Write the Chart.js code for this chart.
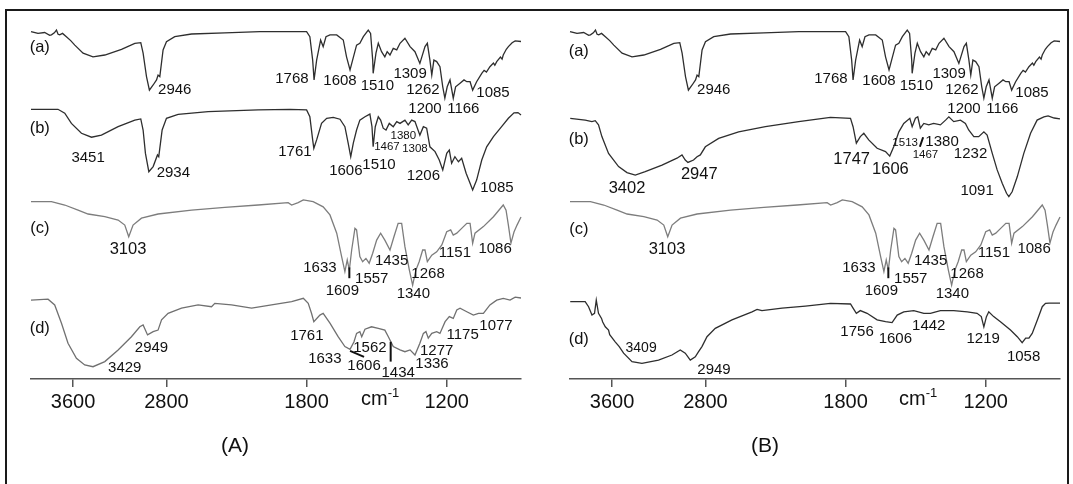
<!DOCTYPE html>
<html><head><meta charset="utf-8">
<script src="https://cdn.jsdelivr.net/npm/chart.js@4.4.1/dist/chart.umd.min.js"></script>
<style>
html,body{margin:0;padding:0;background:#fff;}
body{width:1073px;height:484px;position:relative;overflow:hidden;font-family:"Liberation Sans",Arial,sans-serif;}
#frame{position:absolute;left:5px;top:9px;width:1064px;height:485px;border:2px solid #1a1a1a;box-sizing:border-box;}
.cv{position:absolute;top:0;}
#wa{left:0;width:538px;height:484px;}
#wb{left:538px;width:535px;height:484px;}
.t{position:absolute;color:#111;white-space:nowrap;}
.cm{font-size:20px;line-height:20px;top:388px;}
.cm span{font-size:13px;position:relative;top:-8px;}
.pt{font-size:21px;line-height:21px;top:434px;width:60px;text-align:center;}
</style></head>
<body>
<div id="frame"></div>
<div class="cv" id="wa"><canvas id="ca" width="538" height="484"></canvas></div>
<div class="cv" id="wb"><canvas id="cb" width="535" height="484"></canvas></div>
<div class="t cm" style="left:361px">cm<span>-1</span></div>
<div class="t cm" style="left:899px">cm<span>-1</span></div>
<div class="t pt" style="left:205px">(A)</div>
<div class="t pt" style="left:735px">(B)</div>
<script>
// ---- axis ----
const X_TICKS = [3600, 2800, 1800, 1200];
const X_MAX = 3960, X_MIN = 882;

// ---- spectra: [wavenumber (cm-1), offset transmittance] ----
const SPEC_a = [[3960,115.8],[3900,115.2],[3843,115.5],[3800,114.6],[3785,114.7],[3760,115.4],[3742,116.3],[3728,114.9],[3714,114.7],[3690,115.2],[3657,114.1],[3620,112.8],[3585,111.3],[3514,108.6],[3429,107.4],[3328,108],[3185,109.9],[3071,111.9],[3020,112.1],[3000,108.6],[2971,100.8],[2946,96.3],[2914,98],[2885,99.7],[2872,101.3],[2857,100.8],[2829,109.7],[2800,112.4],[2729,114.1],[2585,115],[2300,115.4],[2000,115.8],[1800,115.8],[1786,114.1],[1774,106.3],[1768,99.7],[1757,106.3],[1740,113],[1729,110.8],[1717,114.1],[1700,114.7],[1671,114.7],[1643,113],[1629,107.4],[1614,103],[1603,106.3],[1586,111.3],[1572,111.9],[1557,114.1],[1536,116.3],[1526,115.2],[1517,106.3],[1515,101.9],[1503,108.6],[1493,111.9],[1479,109.1],[1465,107.4],[1455,109.1],[1443,108],[1429,110.2],[1414,109.7],[1400,111.9],[1379,113.6],[1357,110.8],[1336,109.1],[1315,105.2],[1293,110.8],[1283,111.9],[1272,106.3],[1264,101.3],[1255,106.3],[1243,105.8],[1229,104.1],[1217,97.4],[1208,93.6],[1198,97.4],[1186,99.7],[1172,93.6],[1162,97.4],[1143,98.6],[1126,99.7],[1114,99.1],[1100,99.1],[1089,96.3],[1072,99.1],[1050,101.9],[1040,102.9],[1030,102.3],[1015,104.1],[1000,105.3],[994,104.6],[986,105.8],[970,107.3],[963,106.6],[958,108],[945,109.9],[936,110.8],[920,112.1],[907,112.7],[882,112.5]];

const SPEC_Ab = [[3960,89.9],[3729,89.9],[3671,88.6],[3614,85.2],[3528,81.9],[3442,80.6],[3357,81.3],[3214,84.1],[3071,86.3],[3020,86.7],[3000,83],[2980,75.2],[2951,69.1],[2914,70.8],[2877,74.7],[2866,74.1],[2837,83],[2800,86.9],[2700,88.2],[2443,89.1],[2015,89.7],[1871,89.9],[1800,89.7],[1786,87.4],[1774,79.7],[1769,76.9],[1757,79.7],[1736,85.2],[1714,86.9],[1686,87.2],[1657,86.6],[1636,84.1],[1622,78.6],[1611,74.1],[1600,78.6],[1586,83],[1572,86.3],[1550,87.4],[1529,88.3],[1520,84.1],[1515,77.4],[1506,84.1],[1493,87.4],[1483,86.3],[1472,83.6],[1460,83],[1446,85.2],[1429,84.1],[1414,85.8],[1400,85.2],[1379,86.3],[1365,84.7],[1350,86.3],[1336,85.8],[1315,81.3],[1300,84.1],[1286,83.6],[1272,77.4],[1250,75.8],[1232,73],[1217,69.7],[1200,75.2],[1189,76.3],[1179,71.9],[1165,74.1],[1150,72.4],[1136,73.6],[1117,68.6],[1103,65.8],[1089,63],[1072,66.3],[1050,73],[1029,77.4],[1000,80.8],[965,84.1],[936,86.9],[912,88.7],[895,88.8],[882,88]];

const SPEC_c = [[3960,59.1],[3785,59.1],[3671,58],[3557,56.3],[3471,55],[3328,54.1],[3214,53],[3157,51.3],[3123,47.4],[3086,51.3],[3014,53.6],[2872,55],[2585,56.3],[2300,57.2],[2015,58],[1879,58.8],[1864,58],[1836,58.8],[1814,59.7],[1772,59.1],[1729,57.4],[1700,54.7],[1671,48.6],[1650,40.8],[1636,35.8],[1626,39.7],[1617,36.3],[1607,43],[1593,50.2],[1586,49.7],[1572,40.8],[1560,39.1],[1546,40.2],[1532,38.6],[1517,41.9],[1500,46.3],[1483,48.6],[1465,46.3],[1443,43],[1426,47.4],[1408,51.9],[1393,51.9],[1379,44.1],[1360,36.3],[1346,31.3],[1332,36.3],[1318,39.1],[1303,43],[1293,43],[1283,39.1],[1264,41.3],[1243,42.4],[1221,44.7],[1200,49.1],[1183,49.7],[1172,48],[1157,48.6],[1136,50.2],[1114,51.9],[1100,51.9],[1089,45.2],[1079,48.6],[1043,50.8],[1000,54.1],[958,58],[946,56.3],[936,51.3],[925,45.3],[912,49],[899,51.3],[882,54]];

const SPEC_Ad = [[3960,26.3],[3814,26.6],[3757,24.7],[3699,18.6],[3643,11.9],[3571,6.9],[3500,4.7],[3429,4.1],[3328,5.8],[3214,9.7],[3100,14.1],[3028,17.4],[3000,18],[2962,14.7],[2914,15.8],[2872,16.3],[2842,19.7],[2786,21.9],[2671,23.6],[2529,24.7],[2414,24.1],[2386,25.2],[2243,24.7],[2071,23.6],[1950,24.7],[1864,25.8],[1814,26.9],[1793,25.2],[1779,21.9],[1769,19.1],[1743,21.3],[1729,21.9],[1700,18.6],[1665,14.1],[1636,10.8],[1614,9.9],[1597,12.4],[1586,15.2],[1572,15.8],[1564,14.1],[1550,16.6],[1522,17.4],[1493,16.9],[1465,16.3],[1450,14.1],[1429,10.8],[1400,9.7],[1379,9.1],[1357,9.7],[1336,8],[1315,11.9],[1300,15.2],[1289,15.8],[1279,13.6],[1264,15.2],[1243,15.8],[1229,15.2],[1207,19.1],[1189,20.8],[1172,20.2],[1157,23],[1143,23.6],[1114,22.4],[1086,21.3],[1064,21.9],[1043,21.9],[1015,24.7],[986,26.3],[958,26.9],[929,26.3],[907,27.3],[882,27]];

const SPEC_Bb = [[3958,86.9],[3830,86.3],[3772,85.8],[3744,86.1],[3716,84.7],[3687,80.8],[3630,75.2],[3544,70.8],[3472,68.8],[3401,68],[3316,69.1],[3172,71.3],[3044,73.6],[3001,74.7],[2973,73],[2950,72.2],[2902,73],[2872,74.1],[2844,74.7],[2801,77.4],[2687,80.2],[2516,82.4],[2287,84.1],[2002,85.8],[1865,87.2],[1779,86.9],[1768,84.1],[1754,78.6],[1737,80.8],[1722,81.9],[1701,79.7],[1665,76.9],[1629,75.8],[1611,74.3],[1594,77.4],[1572,82.4],[1551,85.2],[1525,86.9],[1515,84.1],[1501,86.9],[1491,87.4],[1480,83.6],[1465,85.2],[1444,84.7],[1423,85.2],[1394,84.7],[1372,86.3],[1358,87.4],[1337,85.8],[1308,86.3],[1287,85.2],[1273,83],[1251,80.8],[1230,80.8],[1208,82.4],[1194,81.3],[1172,75.2],[1151,69.7],[1129,65.2],[1111,61.9],[1101,60.8],[1087,62.4],[1065,67.4],[1037,75.2],[1008,81.9],[980,86.3],[951,87.4],[933,87.7],[907,87],[882,86.7]];

const SPEC_Bd = [[3958,25.8],[3830,25.8],[3801,24.1],[3772,21.3],[3750,21.9],[3735,26.3],[3716,21.9],[3690,20.2],[3680,19.0],[3658,17.4],[3630,16.3],[3620,14.8],[3573,12.4],[3540,10.9],[3501,8.6],[3429,5.8],[3344,5.2],[3202,6.3],[3087,8],[3016,9.7],[2973,8.6],[2930,6.3],[2887,7.4],[2859,9.1],[2830,10.8],[2787,14.1],[2716,16.9],[2573,19.7],[2401,22.4],[2358,23.2],[2316,22.8],[2144,23.6],[1972,24.3],[1865,25.2],[1779,25],[1768,23.6],[1754,21.9],[1737,22.8],[1708,21.9],[1665,19.7],[1629,19.1],[1601,18.8],[1579,21.3],[1551,22.4],[1508,22.8],[1465,21.9],[1437,21.9],[1394,22.8],[1337,22.8],[1279,22.4],[1237,21.9],[1219,20.8],[1208,17.4],[1197,20.8],[1187,22.4],[1166,20.8],[1137,19.1],[1094,16.3],[1065,14.1],[1044,12.1],[1029,13.6],[1015,13.6],[1001,15.2],[979,19.7],[958,24.1],[944,25.2],[929,25.3],[882,25.3]];

// ---- peak labels: [text, wavenumber, level, kind] ----
const LABELS_a = [['2946',2729,96.9],['1768',1863,100.5],['1608',1657,99.7],['1510',1497,98.2],['1309',1357,102.1],['1262',1302,96.9],['1200',1293,90.6],['1166',1129,90.6],['1085',1002,95.7]];
const LABELS_Ab = [['3451',3471,74.1],['2934',2741,69.1],['1761',1850,76.3],['1606',1632,69.7],['1510',1490,71.9],['1467',1456,77.7,'s'],['1380',1386,81.3,'s'],['1308',1336,76.9,'s'],['1206',1300,68.3],['1085',985,64]];
const LABELS_c = [['3103',3129,43.6,'b'],['1633',1743,37.4],['1609',1647,29.9],['1557',1521,33.9],['1435',1436,39.9],['1268',1280,35.4],['1340',1343,28.8],['1151',1165,42.4],['1086',993,43.7]];
const LABELS_Ad = [['3429',3157,4.1],['2949',2928,10.8],['1761',1799,14.8],['1633',1722,7.1],['1606',1554,4.7],['1562',1529,10.8],['1434',1408,2.4],['1336',1263,5.4],['1277',1243,9.7],['1175',1132,15.2],['1077',989,18.3]];
const LABELS_Bb = [['3402',3472,63.9,'b'],['2947',2853,68.8,'b'],['1747',1774,73.6,'b'],['1606',1608,70.2,'b'],['1513',1545,79.1,'s'],['1467',1458,75,'s'],['1380',1387,79.4],['1232',1265,75.4],['1091',1237,63.2]];
const LABELS_Bd = [['3409',3351,10.8,'m'],['2949',2727,3.6],['1756',1751,16.3],['1606',1587,13.9],['1442',1444,18],['1219',1211,13.9],['1058',1038,7.7]];
// leader marks: [w1, v1, w2, v2]
const MARKS_c = [[1617,37.2,1617,33.6]];
const MARKS_Ad = [[1614,9.4,1554,7.4],[1440,12.4,1440,5.8]];
const MARKS_Bb = [[1482,77.4,1468,80.6]];
const TAGS_A = [['(a)',111],['(b)',84.1],['(c)',50.8],['(d)',17.4]];
const TAGS_B = [['(a)',109.7],['(b)',80.2],['(c)',50.2],['(d)',13.6]];
const TAG_W = 3885;

// ---- scale with 2x expansion below 2000 cm-1 ----
const BREAK = 2000;
class WaveScale extends Chart.LinearScale {
  static id = 'wave';
  static defaults = {};
  buildTicks() { return X_TICKS.map(v => ({ value: v })); }
  _t(w) { return w >= BREAK ? w : BREAK - 2 * (BREAK - w); }
  getPixelForValue(v) {
    const a = this._t(this.max), b = this._t(this.min);
    return this.getPixelForDecimal((a - this._t(v)) / (a - b));
  }
  getValueForPixel(p) {
    const a = this._t(this.max), b = this._t(this.min);
    const t = a - this.getDecimalForPixel(p) * (a - b);
    return t >= BREAK ? t : BREAK - (BREAK - t) / 2;
  }
}
Chart.register(WaveScale);

const FONT = '"Liberation Sans", Arial, sans-serif';
const annotPlugin = {
  id: 'annot',
  afterDatasetsDraw(chart, args, opts) {
    const { ctx } = chart; const x = chart.scales.x, y = chart.scales.y;
    ctx.save();
    ctx.fillStyle = '#111'; ctx.textAlign = 'center'; ctx.textBaseline = 'alphabetic';
    for (const L of opts.labels) {
      const size = L[3] === 's' ? 11.5 : L[3] === 'b' ? 16.5 : L[3] === 'm' ? 14 : 15;
      ctx.font = size + 'px ' + FONT;
      ctx.fillText(L[0], x.getPixelForValue(L[1]), y.getPixelForValue(L[2]) + 0.36 * size);
    }
    ctx.font = '16.5px ' + FONT;
    for (const T of opts.tags) {
      ctx.fillText(T[0], x.getPixelForValue(TAG_W), y.getPixelForValue(T[1]) + 0.36 * 16.5);
    }
    ctx.strokeStyle = '#111'; ctx.lineWidth = 2;
    for (const m of opts.marks) {
      ctx.beginPath();
      ctx.moveTo(x.getPixelForValue(m[0]), y.getPixelForValue(m[1]));
      ctx.lineTo(x.getPixelForValue(m[2]), y.getPixelForValue(m[3]));
      ctx.stroke();
    }
    ctx.restore();
  }
};

function ds(spec, color) {
  return { data: spec.map(p => ({ x: p[0], y: p[1] })), borderColor: color, borderWidth: 1.3,
           pointRadius: 0, tension: 0, fill: false, clip: false };
}
const DARK = '#2e2e2e', GREY = '#7d7d7d';

function makeChart(id, sets, annot, padL, padR) {
  return new Chart(document.getElementById(id), {
    type: 'line',
    data: { datasets: sets },
    options: {
      responsive: false, animation: false, parsing: true,
      layout: { padding: { left: padL, right: padR, top: 19, bottom: 65 } },
      plugins: { legend: { display: false }, tooltip: { enabled: false }, annot: annot },
      scales: {
        x: { type: 'wave', min: X_MIN, max: X_MAX,
             afterFit: s => { s.height = 40; },
             border: { display: true, color: '#555', width: 1.5 },
             grid: { display: true, drawOnChartArea: false, drawTicks: true, tickLength: 8, color: '#555', lineWidth: 1.5 },
             ticks: { color: '#111', font: { size: 20, family: FONT }, padding: 3, maxRotation: 0, autoSkip: false,
                      callback: v => String(v) } },
        y: { type: 'linear', min: 0, max: 120, display: false }
      }
    },
    plugins: [annotPlugin]
  });
}

makeChart('ca', [ds(SPEC_a, DARK), ds(SPEC_Ab, DARK), ds(SPEC_c, GREY), ds(SPEC_Ad, '#707070')],
  { labels: [...LABELS_a, ...LABELS_Ab, ...LABELS_c, ...LABELS_Ad], marks: [...MARKS_c, ...MARKS_Ad], tags: TAGS_A }, 31, 17);
makeChart('cb', [ds(SPEC_a, DARK), ds(SPEC_Bb, DARK), ds(SPEC_c, GREY), ds(SPEC_Bd, DARK)],
  { labels: [...LABELS_a, ...LABELS_Bb, ...LABELS_c, ...LABELS_Bd], marks: [...MARKS_c, ...MARKS_Bb], tags: TAGS_B }, 32, 13);
</script>
</body></html>
